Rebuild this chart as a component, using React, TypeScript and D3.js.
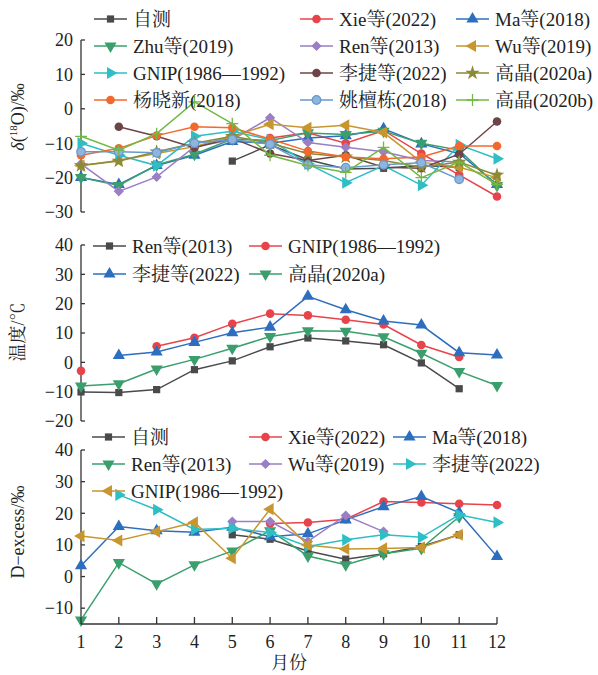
import React from "react";
import * as d3 from "d3";

const W = 598;
const H = 675;
const FONT = '"Liberation Serif", "Times New Roman", "Noto Serif CJK SC", "Noto Sans CJK SC", serif';
const AXIS = "#333333";

const months = [1, 2, 3, 4, 5, 6, 7, 8, 9, 10, 11, 12];
type V = number | null;

// ---- δ18O panel ----
const o18Zice: V[] = [null, null, null, null, -15.2, -10.5, -14.8, -17.5, -17.3, -16.5, -17, null];
const o18Xie: V[] = [null, null, null, null, null, -8.5, -7, -10, -6.3, -13, -19.2, -25.5];
const o18Ma: V[] = [-20, -22, -16.5, -13.5, -9.5, -10, -8.5, -7.8, -5.8, -10.2, -13, -22];
const o18Zhu: V[] = [-20, -22.3, -16.3, -13.2, -8.8, -9.2, -7, -7.5, -6.5, -10, -12, -22.3];
const o18Ren: V[] = [-16, -24, -19.8, -11, -9, -2.6, -9.8, -11.2, -12.5, -15, -15.5, null];
const o18Wu: V[] = [-16.5, -15, -13, -11, -8, -4.5, -5.5, -4.8, -6.9, -15.5, -17, -20];
const o18Gnip: V[] = [-10, -13.5, -16.5, -8, -6.5, -9, -16, -21.5, -16.5, -22.2, -10.5, -14.5];
const o18Lijie: V[] = [null, -5.2, -8, -11.3, -8.5, -13, -15, -13.5, -17, -17.3, -13.2, -3.7];
const o18GaoA: V[] = [-16.5, -15.2, -12.5, -10, -8, -10, -13, -14, -15, -17, -15.5, -19.3];
const o18Yang: V[] = [-13.5, -11.5, -7.8, -5.2, -5.5, -8.8, -12.3, -14, -14.5, -14, -10.8, -10.8];
const o18Yao: V[] = [-12.5, -12.5, -12.8, -10, -8.9, -10.3, -16.3, -17.1, -16.3, -15.7, -20.5, null];
const o18GaoB: V[] = [-8, -12, -7.2, 2, -4.3, -13.5, -16.5, -18.5, -11.2, -20, -15.5, -22];

// ---- temperature panel ----
const tRen: V[] = [-10.1, -10.3, -9.3, -2.5, 0.5, 5.3, 8.3, 7.3, 6.0, -0.2, -9.0, null];
const tGnip: V[] = [-2.9, null, 5.5, 8.4, 13.1, 16.6, 16.0, 14.5, 12.9, 5.9, 1.8, null];
const tLijie: V[] = [null, 2.3, 3.5, 6.8, 10.1, 12.0, 22.5, 17.9, 14.1, 12.7, 3.3, 2.5];
const tGaoA: V[] = [-8.1, -7.3, -2.3, 1.0, 4.8, 8.8, 10.8, 10.6, 8.7, 3.1, -3.1, -7.9];

// ---- D-excess panel ----
const dZice: V[] = [null, null, null, null, 13.2, 11.8, 8.1, 5.5, 7.2, 9.5, 13.2, null];
const dXie: V[] = [null, null, null, null, null, 16.8, 17.1, 18.1, 23.7, 23.4, 23.0, 22.6];
const dMa: V[] = [3.4, 15.8, 14.5, 14.0, 15.6, 12.6, 13.5, 17.9, 22.1, 25.3, 20.2, 6.3];
const dRen: V[] = [-13.7, 4.4, -2.3, 3.7, 8.1, 14.5, 6.5, 3.7, 7.2, 8.9, 18.9, null];
const dWu: V[] = [null, null, null, null, 17.4, 17.4, 11.1, 19.3, 14.2, null, null, null];
const dLijie: V[] = [null, 25.8, 21.1, 14.9, 15.3, 13.9, 9.5, 11.6, 13.2, 12.4, 19.5, 17.1];
const dGnip: V[] = [12.8, 11.4, 14.2, 17.1, 5.8, 21.3, 10, 8.7, 8.9, 9.2, 13.2, null];

const o18Ticks = [20, 10, 0, -10, -20, -30];
const tTicks = [40, 30, 20, 10, 0, -10, -20];
const dTicks = [40, 30, 20, 10, 0, -10];

type Shape = "square" | "circle" | "up" | "down" | "diamond" | "left" | "right" | "star" | "plus";
type Series = { name: string; values: V[]; color: string; shape: Shape };

const C = {
  gray: "#4a4a4a",
  red: "#e8434b",
  blue: "#2d6fbe",
  green: "#3a9f6c",
  purple: "#9a7ec6",
  gold: "#c8962e",
  cyan: "#2ebec6",
  brown: "#6d4447",
  olive: "#8b8a36",
  orange: "#f2692d",
  steel: "#6699cc",
  lgreen: "#73b844",
};

const o18Series: Series[] = [
  { name: "自测", values: o18Zice, color: C.gray, shape: "square" },
  { name: "Xie等(2022)", values: o18Xie, color: C.red, shape: "circle" },
  { name: "Ma等(2018)", values: o18Ma, color: C.blue, shape: "up" },
  { name: "Zhu等(2019)", values: o18Zhu, color: C.green, shape: "down" },
  { name: "Ren等(2013)", values: o18Ren, color: C.purple, shape: "diamond" },
  { name: "Wu等(2019)", values: o18Wu, color: C.gold, shape: "left" },
  { name: "GNIP(1986—1992)", values: o18Gnip, color: C.cyan, shape: "right" },
  { name: "李捷等(2022)", values: o18Lijie, color: C.brown, shape: "circle" },
  { name: "高晶(2020a)", values: o18GaoA, color: C.olive, shape: "star" },
  { name: "杨晓新(2018)", values: o18Yang, color: C.orange, shape: "circle" },
  { name: "姚檀栋(2018)", values: o18Yao, color: C.steel, shape: "circle" },
  { name: "高晶(2020b)", values: o18GaoB, color: C.lgreen, shape: "plus" },
];

const tSeries: Series[] = [
  { name: "Ren等(2013)", values: tRen, color: C.gray, shape: "square" },
  { name: "GNIP(1986—1992)", values: tGnip, color: C.red, shape: "circle" },
  { name: "李捷等(2022)", values: tLijie, color: C.blue, shape: "up" },
  { name: "高晶(2020a)", values: tGaoA, color: C.green, shape: "down" },
];

const dSeries: Series[] = [
  { name: "自测", values: dZice, color: C.gray, shape: "square" },
  { name: "Xie等(2022)", values: dXie, color: C.red, shape: "circle" },
  { name: "Ma等(2018)", values: dMa, color: C.blue, shape: "up" },
  { name: "Ren等(2013)", values: dRen, color: C.green, shape: "down" },
  { name: "Wu等(2019)", values: dWu, color: C.purple, shape: "diamond" },
  { name: "李捷等(2022)", values: dLijie, color: C.cyan, shape: "right" },
  { name: "GNIP(1986—1992)", values: dGnip, color: C.gold, shape: "left" },
];

const x = d3.scaleLinear().domain([1, 12]).range([81, 497]);
const AX = 81;

const Marker = ({ shape, color, cx, cy }: { shape: Shape; color: string; cx: number; cy: number }) => {
  let type: d3.SymbolType = d3.symbolCircle;
  let size = 58;
  let rot = 0;
  if (shape === "square") { type = d3.symbolSquare; size = 52; }
  if (shape === "up") { type = d3.symbolTriangle; size = 64; }
  if (shape === "down") { type = d3.symbolTriangle; size = 64; rot = 180; }
  if (shape === "left") { type = d3.symbolTriangle; size = 64; rot = -90; }
  if (shape === "right") { type = d3.symbolTriangle; size = 64; rot = 90; }
  if (shape === "diamond") { type = d3.symbolSquare; size = 52; rot = 45; }
  if (shape === "star") { type = d3.symbolStar; size = 66; }
  if (shape === "plus") { type = d3.symbolPlus; size = 48; }
  const path = d3.symbol().type(type).size(size)() || "";
  const t = `translate(${cx},${cy}) rotate(${rot})`;
  if (shape === "plus") {
    return <path d={path} transform={t} fill="none" stroke={color} strokeWidth={1.3} />;
  }
  if (color === C.steel) {
    return <path d={path} transform={t} fill="#8fb5de" stroke={color} strokeWidth={1.2} />;
  }
  return <path d={path} transform={t} fill={color} />;
};

type PanelProps = {
  series: Series[];
  domain: [number, number];
  range: [number, number];
  ticks: number[];
  legendRows: number[];
  legendCols: number[];
  legendPerRow: number;
};

const Panel = ({ series, domain, range, ticks, legendRows, legendCols, legendPerRow }: PanelProps) => {
  const y = d3.scaleLinear().domain(domain).range(range);
  const line = d3
    .line<[number, V]>()
    .defined((d) => d[1] != null)
    .x((d) => x(d[0]))
    .y((d) => y(d[1] as number));

  return (
    <g>
      {/* left axis */}
      <line x1={AX} x2={AX} y1={y(domain[1])} y2={y(domain[0])} stroke={AXIS} strokeWidth={1.3} />
      {ticks.map((t) => (
        <g key={t}>
          <line x1={AX} x2={AX + 4} y1={y(t)} y2={y(t)} stroke={AXIS} strokeWidth={1.3} />
          <text x={AX - 8} y={y(t)} dy="0.35em" textAnchor="end" fontSize={18} fill="#222">
            {t < 0 ? "−" + Math.abs(t) : t}
          </text>
        </g>
      ))}
      {/* series */}
      {series.map((s) => {
        const pts = months.map((m, i) => [m, s.values[i]] as [number, V]);
        return (
          <g key={s.name}>
            <path d={line(pts) || ""} fill="none" stroke={s.color} strokeWidth={1.5} />
            {pts
              .filter((p) => p[1] != null)
              .map((p) => (
                <Marker key={p[0]} shape={s.shape} color={s.color} cx={x(p[0])} cy={y(p[1] as number)} />
              ))}
          </g>
        );
      })}
      {/* legend */}
      {series.map((s, i) => {
        const row = Math.floor(i / legendPerRow);
        const col = i % legendPerRow;
        const lx = legendCols[col];
        const ly = legendRows[row];
        return (
          <g key={"lg" + s.name}>
            <line x1={lx} x2={lx + 33} y1={ly} y2={ly} stroke={s.color} strokeWidth={1.5} />
            <Marker shape={s.shape} color={s.color} cx={lx + 16.5} cy={ly} />
            <text x={lx + 39} y={ly} dy="0.35em" fontSize={19} fill="#222">
              {s.name}
            </text>
          </g>
        );
      })}
    </g>
  );
};

const App = () => {
  const dDomain: [number, number] = [-15, 40];
  const dRange: [number, number] = [624, 450];
  const yd = d3.scaleLinear().domain(dDomain).range(dRange);
  const axisY = yd(-15);
  return (
    <svg
      width={W}
      height={H}
      style={{ position: "absolute", left: 0, top: 0, background: "#fff" }}
      fontFamily={FONT}
    >
      <Panel
        series={o18Series}
        domain={[-30, 20]}
        range={[212, 40]}
        ticks={o18Ticks}
        legendRows={[19, 46, 73, 100]}
        legendCols={[94, 300, 456]}
        legendPerRow={3}
      />
      <Panel
        series={tSeries}
        domain={[-20, 40]}
        range={[421, 245]}
        ticks={tTicks}
        legendRows={[246, 274]}
        legendCols={[93, 249]}
        legendPerRow={2}
      />
      <Panel
        series={dSeries}
        domain={dDomain}
        range={dRange}
        ticks={dTicks}
        legendRows={[437, 464, 491]}
        legendCols={[92, 249, 393]}
        legendPerRow={3}
      />
      {/* x axis */}
      <line x1={AX} x2={x(12)} y1={axisY} y2={axisY} stroke={AXIS} strokeWidth={1.3} />
      {months.map((m) => (
        <g key={m}>
          <line x1={x(m)} x2={x(m)} y1={axisY} y2={axisY - 7} stroke={AXIS} strokeWidth={1.3} />
          <text x={x(m)} y={axisY + 24} textAnchor="middle" fontSize={18} fill="#222">
            {m}
          </text>
        </g>
      ))}
      <text x={289} y={669} textAnchor="middle" fontSize={18} fill="#222">
        月份
      </text>
      {/* y titles */}
      <text transform="translate(24,117) rotate(-90)" textAnchor="middle" fontSize={18} fill="#222">
        <tspan fontStyle="italic">δ</tspan>
        <tspan>(</tspan>
        <tspan fontSize={11} dy={-7}>18</tspan>
        <tspan dy={7}>O)/‰</tspan>
      </text>
      <text transform="translate(24,332) rotate(-90)" textAnchor="middle" fontSize={18} fill="#222">
        温度/℃
      </text>
      <text transform="translate(24,532) rotate(-90)" textAnchor="middle" fontSize={18} fill="#222">
        D−excess/‰
      </text>
    </svg>
  );
};

export default App;
